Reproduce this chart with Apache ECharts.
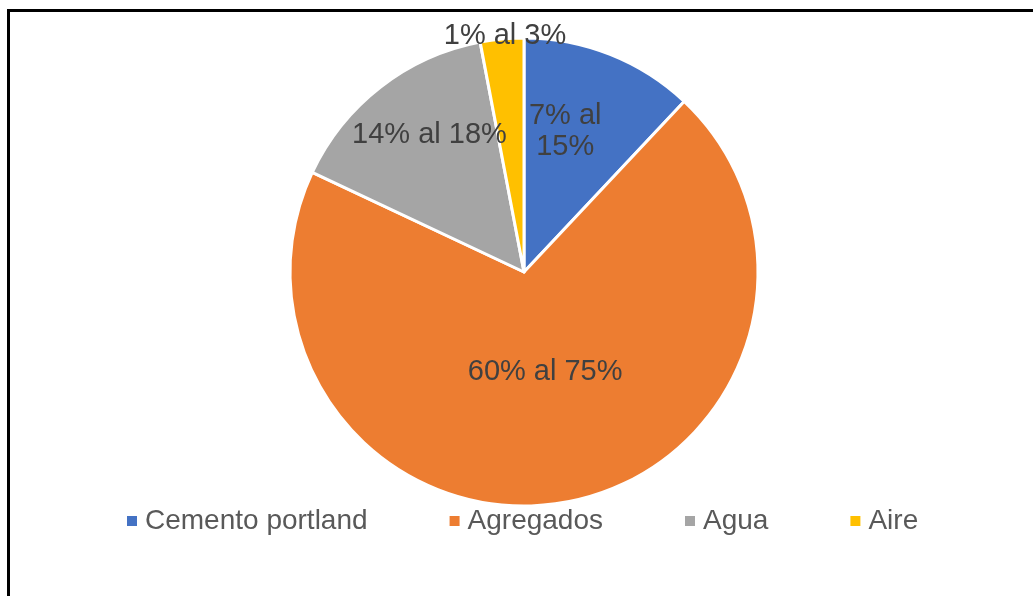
<!DOCTYPE html>
<html>
<head>
<meta charset="utf-8">
<script src="https://cdn.jsdelivr.net/npm/echarts@6/dist/echarts.min.js"></script>
<style>
  html, body { margin: 0; padding: 0; background: #fff; }
  #chart { width: 1033px; height: 596px; }
</style>
</head>
<body>
<div id="chart"></div>
<script>
// Composición típica del concreto (en volumen)
const categories = ['Cemento portland', 'Agregados', 'Agua', 'Aire'];
const shares = [12, 70, 15, 3];
const rangeLabels = ['7% al\n15%', '60% al 75%', '14% al 18%', '1% al 3%'];
const colors = ['#4472C4', '#ED7D31', '#A5A5A5', '#FFC000'];

// Label placement around each slice: [angle offset in degrees, fraction of radius]
const labelPlacement = [[-5.3, 0.627], [-1.1, 0.438], [3.3, 0.713], [0.8, 1.012]];

const CX = 524, CY = 272, R = 234;
const total = shares.reduce((a, b) => a + b, 0);
const midAngles = [];
let acc = 0;
shares.forEach(v => { midAngles.push((acc + v / 2) / total * 360); acc += v; });

const font = '"Liberation Sans", Arial, sans-serif';
const chart = echarts.init(document.getElementById('chart'), null, { renderer: 'canvas' });

chart.setOption({
  animation: false,
  backgroundColor: '#ffffff',
  graphic: [{
    type: 'rect',
    shape: { x: 8.5, y: 10.5, width: 1200, height: 800 },
    style: { fill: 'none', stroke: '#000000', lineWidth: 3 },
    silent: true
  }],
  legend: {
    left: 127,
    top: 507,
    padding: 0,
    icon: 'rect',
    itemWidth: 10,
    itemHeight: 10,
    itemGap: 82,
    selectedMode: false,
    data: categories,
    itemStyle: { borderWidth: 0, borderColor: 'transparent' },
    textStyle: { color: '#595959', fontSize: 28, fontFamily: font, padding: [0, 0, 0, 3] }
  },
  series: [{
    type: 'pie',
    center: [CX, CY],
    radius: [0, R],
    startAngle: 90,
    clockwise: true,
    silent: true,
    avoidLabelOverlap: false,
    data: categories.map((name, i) => ({
      name: name,
      value: shares[i],
      itemStyle: { color: colors[i] }
    })),
    itemStyle: { borderColor: '#ffffff', borderWidth: 3 },
    label: {
      show: true,
      position: 'inside',
      formatter: p => rangeLabels[p.dataIndex],
      color: '#404040',
      fontSize: 29,
      lineHeight: 31,
      fontFamily: font,
      align: 'center'
    },
    labelLine: { show: false },
    labelLayout: function (params) {
      const i = params.dataIndex;
      const a = (midAngles[i] + labelPlacement[i][0]) * Math.PI / 180;
      const r = R * labelPlacement[i][1];
      return {
        x: CX + r * Math.sin(a),
        y: CY - r * Math.cos(a),
        align: 'center',
        verticalAlign: 'middle'
      };
    }
  }]
});
</script>
</body>
</html>
